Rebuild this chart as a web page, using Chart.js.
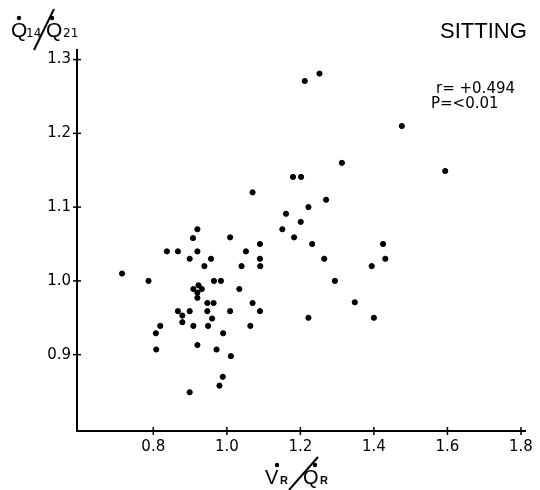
<!DOCTYPE html>
<html>
<head>
<meta charset="utf-8">
<script src="https://cdn.jsdelivr.net/npm/chart.js@4.4.0/dist/chart.umd.min.js"></script>
<style>
html, body { margin: 0; padding: 0; background: #fff; }
</style>
</head>
<body>
<canvas id="scatter" width="540" height="490"></canvas>
<script>
// V'R/Q'R (x) and Q'14/Q'21 (y)
var vrQr = [0.715, 0.787, 0.807, 0.808, 0.819, 0.837, 0.867, 0.867, 0.879, 0.879,
            0.899, 0.899, 0.899, 0.908, 0.909, 0.909, 0.92, 0.92, 0.92, 0.92,
            0.92, 0.923, 0.932, 0.939, 0.947, 0.947, 0.949, 0.957, 0.96, 0.964,
            0.965, 0.972, 0.98, 0.984, 0.989, 0.99, 1.009, 1.009, 1.011, 1.034,
            1.04, 1.052, 1.064, 1.07, 1.07, 1.09, 1.09, 1.091, 1.09, 1.151,
            1.161, 1.18, 1.183, 1.201, 1.202, 1.212, 1.222, 1.222, 1.232, 1.252,
            1.265, 1.27, 1.294, 1.313, 1.348, 1.394, 1.40, 1.425, 1.431, 1.476,
            1.594];
var q14q21 = [1.01, 1.00, 0.929, 0.907, 0.939, 1.04, 1.04, 0.959, 0.953, 0.944,
              1.03, 0.959, 0.849, 1.058, 0.989, 0.939, 1.07, 1.04, 0.984, 0.977,
              0.913, 0.994, 0.989, 1.02, 0.970, 0.959, 0.939, 1.03, 0.949, 0.970,
              1.0, 0.907, 0.858, 1.0, 0.870, 0.929, 1.059, 0.959, 0.898, 0.989,
              1.02, 1.04, 0.939, 1.12, 0.970, 1.05, 1.03, 1.02, 0.959, 1.07,
              1.091, 1.141, 1.059, 1.08, 1.141, 1.271, 1.10, 0.95, 1.05, 1.281,
              1.03, 1.11, 1.0, 1.16, 0.971, 1.02, 0.95, 1.05, 1.03, 1.21,
              1.149];
var xTicks = [0.8, 1.0, 1.2, 1.4, 1.6, 1.8];
var yTicks = [0.9, 1.0, 1.1, 1.2, 1.3];

var points = vrQr.map(function (v, i) { return { x: v, y: q14q21[i] }; });

var labelFont = { family: 'DejaVu Sans', size: 15 };

// dot above a letter
function dot(ctx, x, y) {
  ctx.beginPath();
  ctx.arc(x, y, 2.2, 0, Math.PI * 2);
  ctx.fill();
}

var extras = {
  id: 'extras',
  afterDraw: function (chart) {
    var ctx = chart.ctx;
    var xs = chart.scales.x, ys = chart.scales.y;
    ctx.save();
    ctx.strokeStyle = '#000';
    ctx.fillStyle = '#000';
    ctx.lineWidth = 1.5;
    // cross ticks on both axes
    xTicks.forEach(function (v) {
      var px = xs.getPixelForValue(v);
      ctx.beginPath();
      ctx.moveTo(px, xs.top - 4);
      ctx.lineTo(px, xs.top + 4);
      ctx.stroke();
    });
    yTicks.forEach(function (v) {
      var py = ys.getPixelForValue(v);
      ctx.beginPath();
      ctx.moveTo(ys.right - 4, py);
      ctx.lineTo(ys.right + 4, py);
      ctx.stroke();
    });

    // y title  Q14/Q21
    ctx.textBaseline = 'alphabetic';
    ctx.textAlign = 'left';
    ctx.font = '21px "Liberation Sans"';
    ctx.fillText('Q', 11, 37);
    dot(ctx, 19, 18);
    ctx.font = '12px "DejaVu Sans"';
    ctx.fillText('14', 26, 37);
    ctx.lineWidth = 2;
    ctx.beginPath();
    ctx.moveTo(34, 50);
    ctx.lineTo(54, 9);
    ctx.stroke();
    ctx.font = '21px "Liberation Sans"';
    ctx.fillText('Q', 46, 37);
    dot(ctx, 52, 18);
    ctx.font = '12px "DejaVu Sans"';
    ctx.fillText('21', 63, 37);

    // x title  VR/QR
    ctx.font = '20px "Liberation Sans"';
    ctx.fillText('V', 265, 484);
    dot(ctx, 277, 465);
    ctx.font = 'bold 11px "Liberation Sans"';
    ctx.fillText('R', 280, 484);
    ctx.beginPath();
    ctx.moveTo(289, 490);
    ctx.lineTo(318, 457);
    ctx.stroke();
    ctx.font = '20px "Liberation Sans"';
    ctx.fillText('Q', 303, 484);
    dot(ctx, 315, 465);
    ctx.font = 'bold 11px "Liberation Sans"';
    ctx.fillText('R', 320, 484);

    // annotations
    ctx.font = '22px "Liberation Sans"';
    ctx.fillText('SITTING', 440, 38);
    ctx.font = '15px "DejaVu Sans"';
    ctx.fillText('r= +0.494', 436, 93);
    ctx.fillText('P=<0.01', 431, 108);
    ctx.restore();
  }
};

new Chart(document.getElementById('scatter').getContext('2d'), {
  type: 'scatter',
  data: {
    datasets: [{
      data: points,
      backgroundColor: '#000',
      borderColor: '#000',
      pointRadius: 2.6,
      pointHoverRadius: 2.6
    }]
  },
  options: {
    responsive: false,
    animation: false,
    layout: { padding: { top: 50, right: 10, left: 0, bottom: 0 } },
    plugins: { legend: { display: false }, tooltip: { enabled: false } },
    scales: {
      x: {
        type: 'linear',
        min: 0.5925,
        max: 1.8135,
        afterBuildTicks: function (s) { s.ticks = xTicks.map(function (v) { return { value: v }; }); },
        afterFit: function (s) { s.height = 59; },
        grid: { display: false, drawTicks: false },
        border: { display: true, color: '#000', width: 2 },
        ticks: {
          color: '#000',
          font: labelFont,
          padding: 7,
          maxRotation: 0,
          callback: function (v) { return v.toFixed(1); }
        }
      },
      y: {
        type: 'linear',
        min: 0.7965,
        max: 1.313,
        afterBuildTicks: function (s) { s.ticks = yTicks.map(function (v) { return { value: v }; }); },
        afterFit: function (s) { s.width = 77; },
        grid: { display: false, drawTicks: false },
        border: { display: true, color: '#000', width: 2 },
        ticks: {
          color: '#000',
          font: labelFont,
          padding: 6,
          callback: function (v) { return v.toFixed(1); }
        }
      }
    }
  },
  plugins: [extras]
});
</script>
</body>
</html>
